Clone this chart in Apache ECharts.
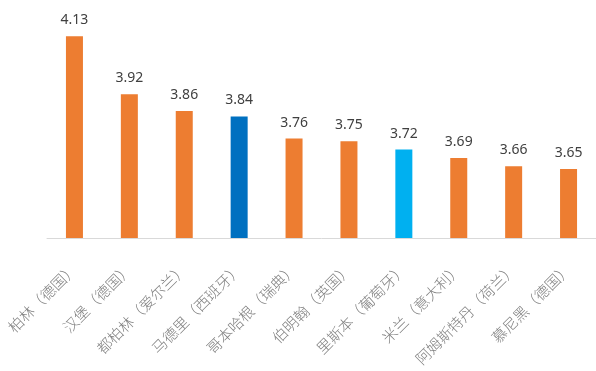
<!DOCTYPE html>
<html><head><meta charset="utf-8">
<script src="https://cdn.jsdelivr.net/npm/echarts@6/dist/echarts.min.js"></script>
<style>html,body{margin:0;padding:0;background:#fff}#c{width:596px;height:371px}</style>
</head><body><div id="c"></div>
<script>
const categories = ['柏林（德国）','汉堡（德国）','都柏林（爱尔兰）','马德里（西班牙）','哥本哈根（瑞典）','伯明翰（英国）','里斯本（葡萄牙）','米兰（意大利）','阿姆斯特丹（荷兰）','慕尼黑（德国）'];
const values = [4.13, 3.92, 3.86, 3.84, 3.76, 3.75, 3.72, 3.69, 3.66, 3.65];
const barColors = ['#ED7D31','#ED7D31','#ED7D31','#0070C0','#ED7D31','#ED7D31','#00B0F0','#ED7D31','#ED7D31','#ED7D31'];

const chart = echarts.init(document.getElementById('c'));
chart.setOption({
  animation: false,
  backgroundColor: '#ffffff',
  grid: { left: 47, right: 0, top: 17, bottom: 133, containLabel: false },
  xAxis: {
    type: 'category',
    data: categories,
    axisLine: { show: true, lineStyle: { color: '#D9D9D9', width: 1 } },
    axisTick: { show: false },
    axisLabel: { rotate: 45, interval: 0, margin: 28, color: '#808080', fontSize: 15,
      fontFamily: 'Noto Sans CJK SC', fontWeight: 300 }
  },
  yAxis: {
    type: 'value', min: 3.4, max: 4.2,
    show: false,
    splitLine: { show: false }
  },
  series: [{
    type: 'bar',
    barWidth: 17,
    data: values.map((v, i) => ({ value: v, itemStyle: { color: barColors[i] } })),
    label: { show: true, position: 'top', distance: 9, color: '#404040', fontSize: 14,
      fontFamily: 'Noto Sans', formatter: p => p.value.toFixed(2) }
  }]
});
</script></body></html>
